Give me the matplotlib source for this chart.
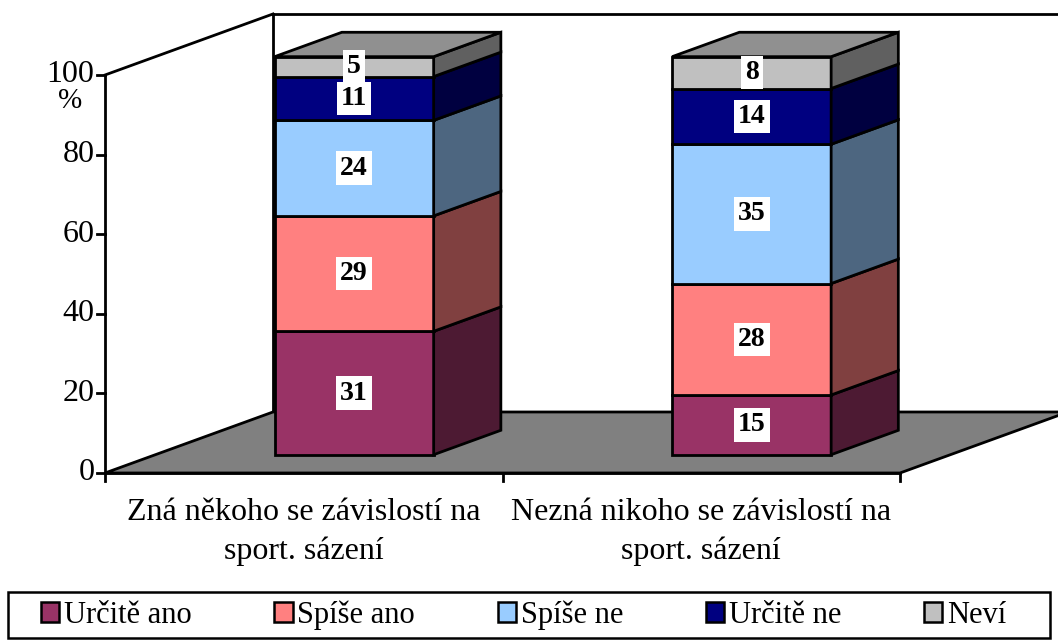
import numpy as np
import matplotlib
matplotlib.use("Agg")
import matplotlib.pyplot as plt
from matplotlib.patches import Polygon, Patch, Rectangle

# Data
categories = ["Zná někoho se závislostí na\nsport. sázení",
              "Nezná nikoho se závislostí na\nsport. sázení"]
series_names = ["Určitě ano", "Spíše ano", "Spíše ne", "Určitě ne", "Neví"]
values = {
    "Určitě ano": [31, 15],
    "Spíše ano": [29, 28],
    "Spíše ne": [24, 35],
    "Určitě ne": [11, 14],
    "Neví": [5, 8],
}
colors = ["#993366", "#FF8080", "#99CCFF", "#000080", "#C0C0C0"]
yticks = [0, 20, 40, 60, 80, 100]

plt.rcParams['font.family'] = ['Liberation Serif', 'DejaVu Serif']

# oblique projection for fake 3D (depth offsets in data units)
DX, DY = 0.4226, 15.33
d0, d1 = 0.3, 0.7
bar_w = 0.4


def shade(c, f):
    r, g, b = matplotlib.colors.to_rgb(c)
    return (r * f, g * f, b * f)


fig = plt.figure(figsize=(10.58, 6.41), dpi=100)
ax = fig.add_axes([0, 0, 1, 1])
ax.set_xlim(-0.2642, 2.3975)
ax.set_ylim(-42.21, 118.84)
ax.axis("off")

n = len(categories)
lw = 2.0

# walls and floor
ax.plot([DX, DX], [DY, 100 + DY], color="black", lw=lw, zorder=1)
ax.plot([DX, n + DX], [100 + DY, 100 + DY], color="black", lw=lw, zorder=1)
ax.plot([0, DX], [100, 100 + DY], color="black", lw=lw, zorder=1)
floor = Polygon([(0, 0), (n, 0), (n + DX, DY), (DX, DY)], closed=True,
                facecolor="#808080", edgecolor="black", lw=lw, zorder=2)
ax.add_patch(floor)

# front axes
ax.plot([0, 0], [0, 100], color="black", lw=lw, zorder=3)
ax.plot([0, n], [0, 0], color="black", lw=lw, zorder=3)
for t in yticks:
    ax.plot([-0.02, 0], [t, t], color="black", lw=lw, zorder=3)
    ax.text(-0.027, t, str(t), ha="right", va="center", fontsize=23)
ax.text(-0.088, 93.5, "%", ha="center", va="center", fontsize=21)
for i in range(n + 1):
    ax.plot([i, i], [0, -2], color="black", lw=lw, zorder=3)
for i, cat in enumerate(categories):
    ax.text(i + 0.5, -6.3, cat, ha="center", va="top", fontsize=23,
            linespacing=1.4)

# stacked pseudo-3D bars
x = np.arange(n) + 0.5
bottoms = np.zeros(n)
for k, name in enumerate(series_names):
    vals = np.array(values[name], dtype=float)
    c = colors[k]
    xs = x + d0 * DX
    ys = bottoms + d0 * DY
    ax.bar(xs, vals, bottom=ys, width=bar_w, color=c, edgecolor="black",
           linewidth=lw, zorder=5)
    for j in range(n):
        xr = xs[j] + bar_w / 2
        y0, y1 = ys[j], ys[j] + vals[j]
        ddx, ddy = (d1 - d0) * DX, (d1 - d0) * DY
        side = Polygon([(xr, y0), (xr + ddx, y0 + ddy), (xr + ddx, y1 + ddy), (xr, y1)],
                       closed=True, facecolor=shade(c, 0.5), edgecolor="black",
                       lw=lw, zorder=5)
        ax.add_patch(side)
        if k == len(series_names) - 1:
            xl = xs[j] - bar_w / 2
            top = Polygon([(xl, y1), (xr, y1), (xr + ddx, y1 + ddy), (xl + ddx, y1 + ddy)],
                          closed=True, facecolor=shade(c, 0.75), edgecolor="black",
                          lw=lw, zorder=5)
            ax.add_patch(top)
        ax.text(xs[j], y0 + vals[j] / 2, str(int(vals[j])), ha="center", va="center",
                fontsize=20, fontweight="bold", zorder=7,
                bbox=dict(facecolor="white", edgecolor="none",
                          boxstyle="square,pad=0.15"))
    bottoms += vals

# legend: entries spread inside a separate frame
handles = [Patch(facecolor=c, edgecolor="black", linewidth=1.8) for c in colors]
leg = fig.legend(handles, series_names, loc="center", ncol=5, mode="expand",
                 bbox_to_anchor=(41 / 1058, 1 - 638 / 641, 965 / 1058, 46 / 641),
                 fontsize=22, frameon=False, handlelength=0.6,
                 handleheight=0.6, handletextpad=0.15, borderpad=0.0,
                 borderaxespad=0)
fig.patches.append(Rectangle((8 / 1058, 1 - 638 / 641), 1042 / 1058, 46 / 641,
                             transform=fig.transFigure, fill=False,
                             edgecolor="black", linewidth=1.8))

fig.savefig("out.png", dpi=100)
